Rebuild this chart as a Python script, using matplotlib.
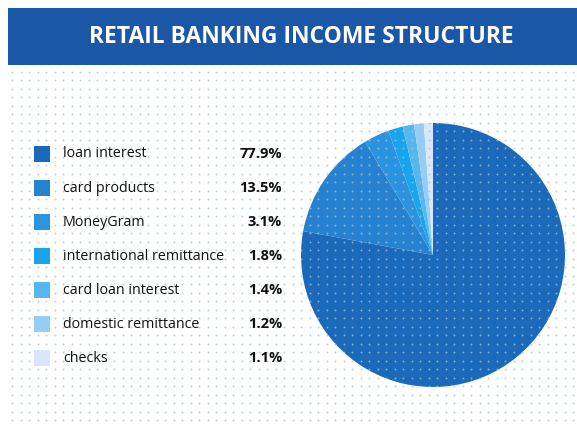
import numpy as np
import matplotlib
matplotlib.use("Agg")
import matplotlib.pyplot as plt
from matplotlib.patches import Rectangle

title = "RETAIL BANKING INCOME STRUCTURE"
categories = ["loan interest", "card products", "MoneyGram",
              "international remittance", "card loan interest",
              "domestic remittance", "checks"]
shares = [77.9, 13.5, 3.1, 1.8, 1.4, 1.2, 1.1]
colors = ["#1a69bb", "#2682d0", "#2b93df", "#17a6ec", "#58b6ee",
          "#95cdf3", "#dbe6fb"]

W, H = 577, 430
fig = plt.figure(figsize=(W / 100, H / 100), dpi=100)
fig.patch.set_facecolor("white")

def fx(px):
    return px / W

def fy(py):
    return 1 - py / H

# header band
fig.patches.append(Rectangle((fx(8), fy(65)), 1 - fx(8), (65 - 8) / H,
                             transform=fig.transFigure, facecolor="#1b57a7",
                             edgecolor="none", zorder=0))
fig.text(fx(301), fy(37), title, color="white", fontsize=16.5,
         fontweight="bold", family="Open Sans", ha="center", va="center")

# pie
r = 132
cx, cy = 433, 255
ax = fig.add_axes([fx(cx - r), fy(cy + r), 2 * r / W, 2 * r / H])
ax.pie(shares, colors=colors, startangle=90, counterclock=False,
       radius=1.0, wedgeprops=dict(linewidth=0))
ax.set_xlim(-1, 1)
ax.set_ylim(-1, 1)
ax.set_aspect("auto")
ax.axis("off")

# legend rows
row0, step = 154, 34.0
for i, (name, val, col) in enumerate(zip(categories, shares, colors)):
    y = row0 + i * step
    fig.patches.append(Rectangle((fx(34), fy(y + 8)), 16 / W, 16 / H,
                                 transform=fig.transFigure, facecolor=col,
                                 edgecolor="none", zorder=1))
    fig.text(fx(63), fy(y), name, fontsize=10.3, color="#111111",
             family="Open Sans", ha="left", va="center")
    fig.text(fx(282), fy(y), f"{val:.1f}%", fontsize=10.5, color="#111111",
             family="Open Sans", fontweight="bold", ha="right", va="center")

# dot screen over the whole panel
xs = np.arange(12, W, 8.5)
ys = np.arange(12, H - 6, 8.5)
gx, gy = np.meshgrid(xs, ys)
dots = fig.add_axes([0, 0, 1, 1], facecolor="none")
dots.set_xlim(0, W)
dots.set_ylim(H, 0)
dots.axis("off")
dots.scatter(gx.ravel(), gy.ravel(), s=2.0, c="#a6c6d4", alpha=0.75,
             linewidths=0)

fig.savefig("out.png", dpi=100)
